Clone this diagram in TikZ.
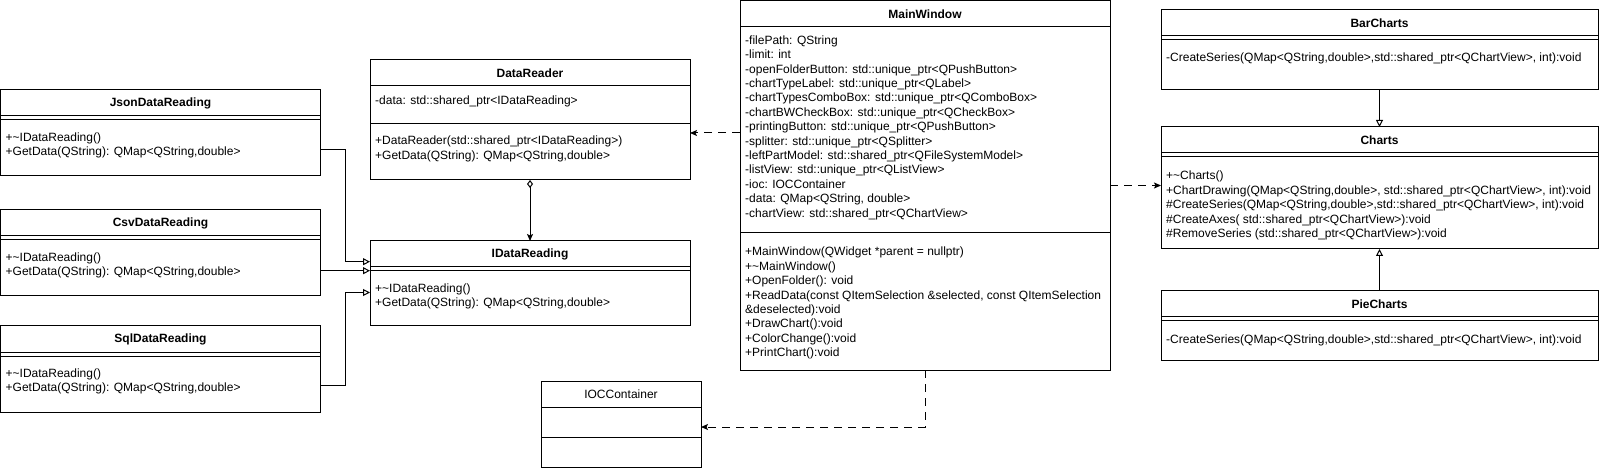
\documentclass[tikz,border=0pt]{standalone}
\usepackage{fontspec}
\setmainfont{Liberation Sans}
\usetikzlibrary{arrows.meta}

\tikzset{
  classbox/.style={draw, line width=1pt, inner sep=0pt, outer sep=0pt, anchor=north west},
  classname/.style={font=\fontsize{12}{14.4}\selectfont\bfseries, inner sep=0pt},
  members/.style={anchor=north west, align=left, inner sep=0pt},
  inherit/.style={-{Triangle[open,length=7pt,width=7pt]}, line width=1pt},
  depends/.style={-{Stealth[length=7pt,width=6pt,inset=1.5pt]}, dash pattern=on 8pt off 6pt, line width=1pt},
  owns/.style={{Diamond[open,length=8pt,width=6pt]}-{Stealth[length=7pt,width=6pt,inset=1.5pt]}, line width=1pt}
}

\begin{document}
\begin{tikzpicture}[x=1pt, y=-1pt, font=\fontsize{12}{14.4}\selectfont]
\useasboundingbox (0,0) rectangle (1601,470);

% readers on the left
\node[classbox, minimum width=320, minimum height=86] (json) at (0.5,90) {};
\node[classname] (json-t) at ([yshift=-13pt]json.north) {JsonDataReading};
\node[members] (json-m) at ([xshift=5pt,yshift=-42.5pt]json.north west)
  {+\textasciitilde IDataReading()\\+GetData(QString): QMap<QString,double>};

\node[classbox, minimum width=320, minimum height=86] (csv) at (0.5,210) {};
\node[classname] (csv-t) at ([yshift=-13pt]csv.north) {CsvDataReading};
\node[members] (csv-m) at ([xshift=5pt,yshift=-42.5pt]csv.north west)
  {+\textasciitilde IDataReading()\\+GetData(QString): QMap<QString,double>};

\node[classbox, minimum width=320, minimum height=86] (sql) at (0.5,326) {};
\node[classname] (sql-t) at ([yshift=-13pt]sql.north) {SqlDataReading};
\node[members] (sql-m) at ([xshift=5pt,yshift=-42.5pt]sql.north west)
  {+\textasciitilde IDataReading()\\+GetData(QString): QMap<QString,double>};

% reader and its interface
\node[classbox, minimum width=320, minimum height=120] (datareader) at (370,60) {};
\node[classname] (datareader-t) at ([yshift=-13pt]datareader.north) {DataReader};
\draw[line width=1pt] ([yshift=-26pt]datareader.north west) -- ([yshift=-26pt]datareader.north east);
\draw[line width=1pt] ([yshift=-64pt]datareader.north west) -- ([yshift=-64pt]datareader.north east);
\node[members] (datareader-a) at ([xshift=5pt,yshift=-35.5pt]datareader.north west)
  {-data: std::shared\_ptr<IDataReading>};
\node[members] (datareader-m) at ([xshift=5pt,yshift=-76pt]datareader.north west)
  {+DataReader(std::shared\_ptr<IDataReading>)\\+GetData(QString): QMap<QString,double>};

\node[classbox, minimum width=320, minimum height=85] (idata) at (370,241) {};
\node[classname] (idata-t) at ([yshift=-13pt]idata.north) {IDataReading};
\node[members] (idata-m) at ([xshift=5pt,yshift=-42.5pt]idata.north west)
  {+\textasciitilde IDataReading()\\+GetData(QString): QMap<QString,double>};

% main window
\node[classbox, minimum width=370, minimum height=369] (mainwindow) at (740,1) {};
\node[classname] (mainwindow-t) at ([yshift=-13pt]mainwindow.north) {MainWindow};
\draw[line width=1pt] ([yshift=-26pt]mainwindow.north west) -- ([yshift=-26pt]mainwindow.north east);
\draw[line width=1pt] ([yshift=-232pt]mainwindow.north west) -- ([yshift=-232pt]mainwindow.north east);
\node[members] (mainwindow-a) at ([xshift=5pt,yshift=-34.5pt]mainwindow.north west)
  {-filePath: QString\\
   -limit: int\\
   -openFolderButton: std::unique\_ptr<QPushButton>\\
   -chartTypeLabel: std::unique\_ptr<QLabel>\\
   -chartTypesComboBox: std::unique\_ptr<QComboBox>\\
   -chartBWCheckBox: std::unique\_ptr<QCheckBox>\\
   -printingButton: std::unique\_ptr<QPushButton>\\
   -splitter: std::unique\_ptr<QSplitter>\\
   -leftPartModel: std::shared\_ptr<QFileSystemModel>\\
   -listView: std::unique\_ptr<QListView>\\
   -ioc: IOCContainer\\
   -data: QMap<QString, double>\\
   -chartView: std::shared\_ptr<QChartView>};
\node[members] (mainwindow-m) at ([xshift=5pt,yshift=-246pt]mainwindow.north west)
  {+MainWindow(QWidget *parent = nullptr)\\
   +\textasciitilde MainWindow()\\
   +OpenFolder(): void\\
   +ReadData(const QItemSelection \&selected, const QItemSelection\\
   \&deselected):void\\
   +DrawChart():void\\
   +ColorChange():void\\
   +PrintChart():void};

% container
\node[classbox, minimum width=160, minimum height=86] (ioc) at (541,381) {};
\node[inner sep=0pt] (ioc-t) at ([yshift=-13pt]ioc.north) {IOCContainer};
\draw[line width=1pt] ([yshift=-26pt]ioc.north west) -- ([yshift=-26pt]ioc.north east);
\draw[line width=1pt] ([yshift=-56pt]ioc.north west) -- ([yshift=-56pt]ioc.north east);

% charts on the right
\node[classbox, minimum width=437, minimum height=80] (barcharts) at (1161,10) {};
\node[classname] (barcharts-t) at ([yshift=-13pt]barcharts.north) {BarCharts};
\node[members] (barcharts-m) at ([xshift=5pt,yshift=-42.5pt]barcharts.north west)
  {-CreateSeries(QMap<QString,double>,std::shared\_ptr<QChartView>, int):void};

\node[classbox, minimum width=437, minimum height=122] (charts) at (1161,127) {};
\node[classname] (charts-t) at ([yshift=-13pt]charts.north) {Charts};
\node[members] (charts-m) at ([xshift=5pt,yshift=-44pt]charts.north west)
  {+\textasciitilde Charts()\\
   +ChartDrawing(QMap<QString,double>, std::shared\_ptr<QChartView>, int):void\\
   \#CreateSeries(QMap<QString,double>,std::shared\_ptr<QChartView>, int):void\\
   \#CreateAxes( std::shared\_ptr<QChartView>):void\\
   \#RemoveSeries (std::shared\_ptr<QChartView>):void};

\node[classbox, minimum width=437, minimum height=69] (piecharts) at (1161,291) {};
\node[classname] (piecharts-t) at ([yshift=-13pt]piecharts.north) {PieCharts};
\node[members] (piecharts-m) at ([xshift=5pt,yshift=-44pt]piecharts.north west)
  {-CreateSeries(QMap<QString,double>,std::shared\_ptr<QChartView>, int):void};

% header and empty separator lines
\foreach \c in {json,csv,sql,idata,barcharts,charts,piecharts} {
  \draw[line width=1pt] ([yshift=-26pt]\c.north west) -- ([yshift=-26pt]\c.north east);
  \draw[line width=1pt] ([yshift=-30pt]\c.north west) -- ([yshift=-30pt]\c.north east);
}

% generalisation
\coordinate (csvin) at ([yshift=12.8pt]idata.west);
\draw[inherit] ([yshift=-17pt]json.east) -- ++(25,0) |- ([yshift=21.8pt]idata.west);
\draw[inherit] (csv.east |- csvin) -- (csvin);
\draw[inherit] ([yshift=-16.5pt]sql.east) -- ++(25,0) |- ([yshift=-9pt]idata.west);
\draw[inherit] (barcharts.south) -- (charts.north);
\draw[inherit] (piecharts.north) -- (charts.south);

% aggregation
\draw[owns] (datareader.south) -- (idata.north);

% dependencies
\coordinate (drin) at ([yshift=-13pt]datareader.east);
\draw[depends] (mainwindow.west |- drin) -- (drin);
\draw[depends] (mainwindow.east) -- (charts.west |- mainwindow.east);
\draw[depends] (mainwindow.south) |- ([yshift=-3pt]ioc.east);

\end{tikzpicture}
\end{document}
